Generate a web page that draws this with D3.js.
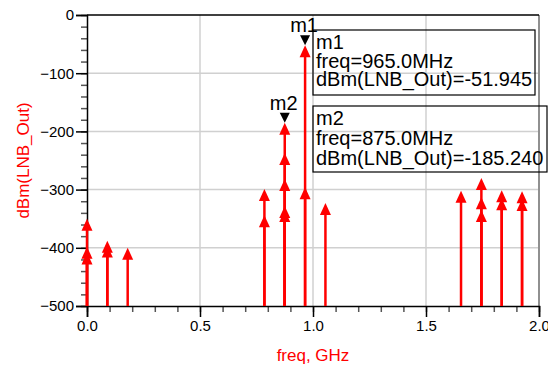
<!DOCTYPE html>
<html>
<head>
<meta charset="utf-8">
<script src="https://cdn.jsdelivr.net/npm/d3@7"></script>
<style>
  body { margin: 0; background: #fff; }
  text { font-family: "Liberation Sans", Arial, sans-serif; }
</style>
</head>
<body>
<div id="container"></div>
<script>
var width = 548,
    height = 369;

// spectrum lines: frequency (GHz) and level (dBm)
var spurFreq  = [0, 0, 0, 0.09, 0.09, 0.18,
                 0.785, 0.785, 0.875, 0.875, 0.875, 0.875, 0.875,
                 0.965, 0.965, 1.055,
                 1.655, 1.745, 1.745, 1.745, 1.835, 1.835, 1.925, 1.925];
var spurLevel = [-350, -398, -408, -388, -396, -400,
                 -299, -344, -185.24, -237, -282, -328, -335,
                 -51.945, -296, -323,
                 -302, -280, -313, -335, -301, -315, -303, -316];

var markerName  = ["m1", "m2"];
var markerFreq  = [0.965, 0.875];
var markerLevel = [-51.945, -185.240];

var xTicks = [0, 0.5, 1.0, 1.5, 2.0];
var yTicks = [0, -100, -200, -300, -400, -500];

var margin = {left: 87, right: 9, top: 15, bottom: 63};

var svg = d3.select("#container").append("svg")
    .attr("width", width)
    .attr("height", height);

var x = d3.scaleLinear().domain([0, 2]).range([margin.left, width - margin.right]);
var y = d3.scaleLinear().domain([-500, 0]).range([height - margin.bottom, margin.top]);

// grid
svg.selectAll(".gx")
    .data(xTicks.slice(1, -1))
    .enter().append("line")
    .attr("x1", d => x(d)).attr("x2", d => x(d))
    .attr("y1", y(0)).attr("y2", y(-500))
    .attr("stroke", "#d0d0d0").attr("stroke-width", 1.5);
svg.selectAll(".gy")
    .data(yTicks.slice(1, -1))
    .enter().append("line")
    .attr("x1", x(0)).attr("x2", x(2))
    .attr("y1", d => y(d)).attr("y2", d => y(d))
    .attr("stroke", "#d0d0d0").attr("stroke-width", 1.5);

// frame
svg.append("line")
    .attr("x1", x(2)).attr("x2", x(2)).attr("y1", y(0)).attr("y2", y(-500))
    .attr("stroke", "#909090").attr("stroke-width", 2);
svg.append("line")
    .attr("x1", x(0)).attr("x2", x(2)).attr("y1", y(0)).attr("y2", y(0))
    .attr("stroke", "#000").attr("stroke-width", 1.5);

// axes
var xAxis = d3.axisBottom(x).tickValues(xTicks).tickFormat(d3.format(".1f")).tickSize(11).tickPadding(3);
var xMinor = d3.axisBottom(x).ticks(20).tickSize(6).tickFormat("");
var yAxis = d3.axisLeft(y).tickValues(yTicks).tickSize(11).tickPadding(2);
var yMinor = d3.axisLeft(y).ticks(25).tickSize(6).tickFormat("");

var gxm = svg.append("g").attr("transform", "translate(0," + y(-500) + ")").call(xMinor);
var gx = svg.append("g").attr("transform", "translate(0," + y(-500) + ")").call(xAxis);
var gym = svg.append("g").attr("transform", "translate(" + x(0) + ",0)").call(yMinor);
var gy = svg.append("g").attr("transform", "translate(" + x(0) + ",0)").call(yAxis);

[gxm, gym].forEach(g => {
    g.select(".domain").remove();
    g.selectAll("line").attr("stroke", "#555").attr("stroke-width", 1.5);
});
[gx, gy].forEach(g => {
    g.select(".domain").attr("stroke", "#000").attr("stroke-width", 1.5);
    g.selectAll("line").attr("stroke", "#000").attr("stroke-width", 1.5);
    g.selectAll("text").attr("font-size", 15).attr("fill", "#000")
        .style("font-family", "'Liberation Sans', Arial, sans-serif");
});

// axis titles
svg.append("text")
    .attr("x", x(1)).attr("y", 361)
    .attr("text-anchor", "middle")
    .attr("font-size", 17).attr("fill", "#ff0000")
    .text("freq, GHz");
svg.append("text")
    .attr("transform", "translate(29," + y(-250) + ") rotate(-90)")
    .attr("text-anchor", "middle")
    .attr("font-size", 17).attr("fill", "#ff0000")
    .text("dBm(LNB_Out)");

// stems
var spurs = spurFreq.map((f, i) => ({f: f, v: spurLevel[i]}));
svg.selectAll(".stem")
    .data(spurs)
    .enter().append("line")
    .attr("x1", d => x(d.f)).attr("x2", d => x(d.f))
    .attr("y1", y(-500)).attr("y2", d => y(d.v) + 4)
    .attr("stroke", "#ff0000").attr("stroke-width", 2.5);
svg.selectAll(".head")
    .data(spurs)
    .enter().append("path")
    .attr("d", d => {
        var cx = x(d.f), cy = y(d.v);
        return "M" + cx + "," + cy + "L" + (cx - 5.5) + "," + (cy + 12) + "L" + (cx + 5.5) + "," + (cy + 12) + "Z";
    })
    .attr("fill", "#ff0000");

// markers
var markers = markerName.map((n, i) => ({n: n, f: markerFreq[i], v: markerLevel[i]}));
svg.selectAll(".mk")
    .data(markers)
    .enter().append("path")
    .attr("d", d => {
        var cx = x(d.f), cy = y(d.v);
        return "M" + cx + "," + cy + "L" + (cx - 5) + "," + (cy - 10) + "L" + (cx + 5) + "," + (cy - 10) + "Z";
    })
    .attr("fill", "#000");
svg.selectAll(".mkl")
    .data(markers)
    .enter().append("text")
    .attr("x", d => x(d.f) - 1).attr("y", d => y(d.v) - 13)
    .attr("text-anchor", "middle")
    .attr("font-size", 20).attr("fill", "#000")
    .text(d => d.n);

// readout boxes
var boxes = [
    {x: 313, y: 30, w: 222, h: 65, dy: 18.5},
    {x: 313, y: 106, w: 234, h: 66, dy: 20}
];
markers.forEach((m, i) => {
    var b = boxes[i];
    svg.append("rect")
        .attr("x", b.x).attr("y", b.y).attr("width", b.w).attr("height", b.h)
        .attr("fill", "none").attr("stroke", "#000").attr("stroke-width", 1.2);
    var lines = [m.n, "freq=" + (m.f * 1000).toFixed(1) + "MHz",
                 "dBm(LNB_Out)=" + m.v.toFixed(3)];
    svg.append("text")
        .attr("x", b.x + 3).attr("y", b.y + 19)
        .attr("font-size", 20).attr("fill", "#000")
        .selectAll("tspan")
        .data(lines)
        .enter().append("tspan")
        .attr("x", b.x + 3)
        .attr("dy", (d, j) => j === 0 ? 0 : b.dy)
        .text(d => d);
});
</script>
</body>
</html>
